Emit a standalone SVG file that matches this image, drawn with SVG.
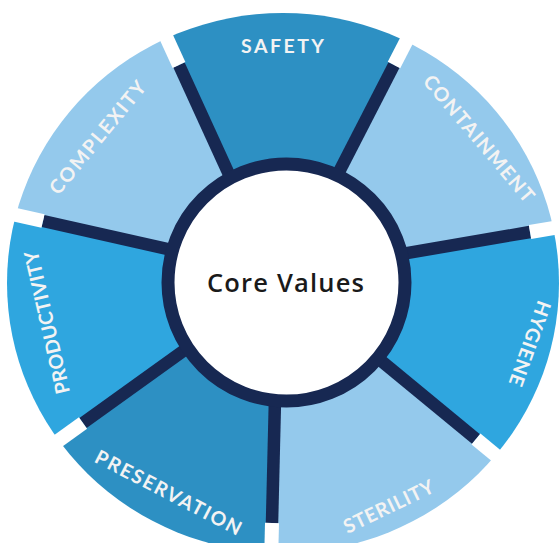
<svg xmlns="http://www.w3.org/2000/svg" width="559" height="543" viewBox="0 0 559 543">
  <style>
    .mid { fill: #2d90c3; }
    .light { fill: #94c9ec; }
    .bright { fill: #2fa6df; }
    .label { fill: #f3f3f3; font-family: Lato, "Liberation Sans", sans-serif; font-weight: 700; font-size: 19.5px; text-anchor: middle; }
    .spoke { stroke: #172852; stroke-width: 12.5; stroke-linecap: butt; fill: none; }
    .gap { stroke: #ffffff; stroke-width: 14; stroke-linecap: butt; fill: none; }
    .ring { fill: #ffffff; stroke: #172852; stroke-width: 13; }
    .core { fill: #1a1a1a; font-family: "Open Sans", "Liberation Sans", sans-serif; font-weight: 600; font-size: 25.5px; text-anchor: middle; }
  </style>
  <defs>
    <clipPath id="disc">
      <ellipse cx="283" cy="283" rx="276" ry="270"/>
    </clipPath>
  </defs>
  <rect width="559" height="543" fill="#ffffff"/>

  <g clip-path="url(#disc)">
    <g id="safety">
      <polygon class="mid" points="286,283 239.5,197.3 54.3,-207.9 531.3,-201.9 326.3,196.7"/>
    </g>
    <g id="containment">
      <polygon class="light" points="286,283 326.3,196.7 531.3,-201.9 825.7,181.5 383.4,257.1"/>
    </g>
    <g id="hygiene">
      <polygon class="bright" points="286,283 383.4,257.1 825.7,181.5 707.5,629.8 361.8,344.9"/>
    </g>
    <g id="sterility">
      <polygon class="light" points="286,283 361.8,344.9 707.5,629.8 264.7,822.9 275.7,370"/>
    </g>
    <g id="preservation">
      <polygon class="mid" points="286,283 275.7,370 264.7,822.9 -160.7,598.1 203.4,336.5"/>
    </g>
    <g id="productivity">
      <polygon class="bright" points="286,283 203.4,336.5 -160.7,598.1 -249.7,155.2 192.3,254.6"/>
    </g>
    <g id="complexity">
      <polygon class="light" points="286,283 192.3,254.6 -249.7,155.2 54.3,-207.9 239.5,197.3"/>
    </g>
  </g>

  <g id="connectors">
    <line class="spoke" x1="239.5" y1="197.3" x2="179" y2="65"/>
    <line class="gap" x1="179" y1="65" x2="158.2" y2="19.5"/>
    <line class="spoke" x1="326.3" y1="196.7" x2="394" y2="65"/>
    <line class="gap" x1="394" y1="65" x2="416.9" y2="20.5"/>
    <line class="spoke" x1="383.4" y1="257.1" x2="530" y2="232"/>
    <line class="gap" x1="530" y1="232" x2="579.3" y2="223.6"/>
    <line class="spoke" x1="361.8" y1="344.9" x2="476" y2="439"/>
    <line class="gap" x1="476" y1="439" x2="514.6" y2="470.8"/>
    <line class="spoke" x1="275.7" y1="370" x2="272" y2="523"/>
    <line class="gap" x1="272" y1="523" x2="270.8" y2="573"/>
    <line class="spoke" x1="203.4" y1="336.5" x2="83" y2="423"/>
    <line class="gap" x1="83" y1="423" x2="42.4" y2="452.2"/>
    <line class="spoke" x1="192.3" y1="254.6" x2="43" y2="221"/>
    <line class="gap" x1="43" y1="221" x2="-5.8" y2="210"/>
  </g>

  <g id="labels">
    <text class="label" transform="translate(282.5,46.3)" x="0" y="7" textLength="83" lengthAdjust="spacing">SAFETY</text>
    <text class="label" transform="translate(479,138.5) rotate(49.7)" x="0" y="7" textLength="160" lengthAdjust="spacing">CONTAINMENT</text>
    <text class="label" transform="translate(530,343.5) rotate(109.6)" x="0" y="7" textLength="89" lengthAdjust="spacing">HYGIENE</text>
    <text class="label" transform="translate(388.5,506.5) rotate(-25.7)" x="0" y="7" textLength="98" lengthAdjust="spacing">STERILITY</text>
    <text class="label" transform="translate(168.5,492.5) rotate(27.4)" x="0" y="7" textLength="162" lengthAdjust="spacing">PRESERVATION</text>
    <text class="label" transform="translate(47,322.5) rotate(-102.9)" x="0" y="7" textLength="146" lengthAdjust="spacing">PRODUCTIVITY</text>
    <text class="label" transform="translate(97.5,137.5) rotate(-50.7)" x="0" y="7" textLength="140" lengthAdjust="spacing">COMPLEXITY</text>
  </g>

  <g id="core-values">
    <circle class="ring" cx="286.5" cy="282.5" r="118.5"/>
    <text class="core" x="285.5" y="292" textLength="157" lengthAdjust="spacing">Core Values</text>
  </g>
</svg>
